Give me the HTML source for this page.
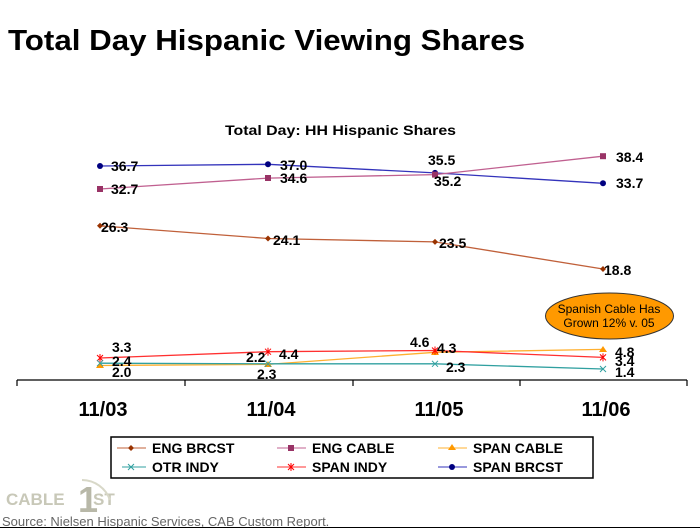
<!DOCTYPE html>
<html><head><meta charset="utf-8"><style>body{margin:0;background:#fff}svg{display:block}</style></head><body>
<svg width="700" height="528" xmlns="http://www.w3.org/2000/svg" font-family="Liberation Sans, sans-serif">
<text x="8" y="50" font-size="29" font-weight="bold" textLength="517" lengthAdjust="spacingAndGlyphs">Total Day Hispanic Viewing Shares</text>
<text x="225" y="135" font-size="14" font-weight="bold" textLength="231" lengthAdjust="spacingAndGlyphs">Total Day:  HH Hispanic Shares</text>
<g stroke="#000" stroke-width="1.2">
<line x1="17" y1="380" x2="687" y2="380"/>
<line x1="17" y1="380" x2="17" y2="386"/><line x1="185" y1="380" x2="185" y2="386"/><line x1="353" y1="380" x2="353" y2="386"/><line x1="520" y1="380" x2="520" y2="386"/><line x1="687" y1="380" x2="687" y2="386"/>
</g>
<g font-size="20" font-weight="bold" text-anchor="middle">
<text x="103" y="416">11/03</text><text x="271" y="416">11/04</text><text x="439" y="416">11/05</text><text x="606" y="416">11/06</text>
</g>
<g fill="none" stroke-width="1.3">
<polyline stroke="#3333bb" points="100,166 268,164.3 435,172.9 603,183.3"/>
<polyline stroke="#c06090" points="100,189 268,178.1 435,174.6 603,156.2"/>
<polyline stroke="#c0603a" points="100,225.8 268,238.5 435,241.9 603,269"/>
<polyline stroke="#ffb030" points="100,365.5 268,364.4 435,352.3 603,349.4"/>
<polyline stroke="#ff3030" points="100,358 268,351.7 435,350.5 603,357.4"/>
<polyline stroke="#30a0a0" points="100,363.2 268,363.8 435,363.8 603,369"/>
</g>
<g fill="#000080"><circle cx="100" cy="166" r="3"/><circle cx="268" cy="164.3" r="3"/><circle cx="435" cy="172.9" r="3"/><circle cx="603" cy="183.3" r="3"/></g>
<g fill="#993366"><rect x="97" y="186" width="6" height="6"/><rect x="265" y="175" width="6" height="6"/><rect x="432" y="171.6" width="6" height="6"/><rect x="600" y="153.2" width="6" height="6"/></g>
<g fill="#993300"><path d="M100 222.8l3 3-3 3-3-3z"/><path d="M268 235.5l3 3-3 3-3-3z"/><path d="M435 238.9l3 3-3 3-3-3z"/><path d="M603 266l3 3-3 3-3-3z"/></g>
<g fill="#ff9900"><path d="M100 362l4 6h-8z"/><path d="M268 361l4 6h-8z"/><path d="M435 349l4 6h-8z"/><path d="M603 346l4 6h-8z"/></g>
<g stroke="#ff0000" stroke-width="1"><path d="M97 355l6 6M103 355l-6 6M100 354v8"/><path d="M265 348.7l6 6M271 348.7l-6 6M268 347.7v8"/><path d="M432 347.5l6 6M438 347.5l-6 6M435 346.5v8"/><path d="M600 354.4l6 6M606 354.4l-6 6M603 353.4v8"/></g>
<g stroke="#30a0a0" stroke-width="1"><path d="M97 360.2l6 6M103 360.2l-6 6"/><path d="M265 360.8l6 6M271 360.8l-6 6"/><path d="M432 360.8l6 6M438 360.8l-6 6"/><path d="M600 366l6 6M606 366l-6 6"/></g>
<g font-size="14" font-weight="bold">
<text x="111" y="171">36.7</text><text x="280" y="170">37.0</text><text x="428" y="165">35.5</text><text x="616" y="188">33.7</text>
<text x="111" y="194">32.7</text><text x="280" y="183">34.6</text><text x="434" y="186">35.2</text><text x="616" y="162">38.4</text>
<text x="101" y="232">26.3</text><text x="273" y="245">24.1</text><text x="439" y="248">23.5</text><text x="604" y="275">18.8</text>
<text x="112" y="352">3.3</text><text x="112" y="366">2.4</text><text x="112" y="377">2.0</text>
<text x="246" y="362">2.2</text><text x="279" y="359">4.4</text><text x="257" y="379">2.3</text>
<text x="410" y="347">4.6</text><text x="437" y="353">4.3</text><text x="446" y="372">2.3</text>
<text x="615" y="357">4.8</text><text x="615" y="366">3.4</text><text x="615" y="377">1.4</text>
</g>
<ellipse cx="609.5" cy="316" rx="64" ry="23" fill="#ff9900" stroke="#333" stroke-width="1"/>
<g font-size="12" text-anchor="middle"><text x="609" y="313">Spanish Cable Has</text><text x="609" y="327">Grown 12% v. 05</text></g>
<rect x="111" y="437" width="482" height="41" fill="#fff" stroke="#000" stroke-width="1.5"/>
<g font-size="14" font-weight="bold">
<line x1="117" y1="448" x2="146" y2="448" stroke="#c0603a"/><path d="M131 445l3 3-3 3-3-3z" fill="#993300"/><text x="152" y="453">ENG BRCST</text>
<line x1="277" y1="448" x2="306" y2="448" stroke="#c06090"/><rect x="288" y="445" width="6" height="6" fill="#993366"/><text x="312" y="453">ENG CABLE</text>
<line x1="438" y1="448" x2="467" y2="448" stroke="#ffb030"/><path d="M452 444l4 6h-8z" fill="#ff9900"/><text x="473" y="453">SPAN CABLE</text>
<line x1="122" y1="467" x2="146" y2="467" stroke="#30a0a0"/><path d="M128 464l6 6M134 464l-6 6" stroke="#30a0a0"/><text x="152" y="472">OTR INDY</text>
<line x1="277" y1="467" x2="306" y2="467" stroke="#ff3030"/><path d="M288 464l6 6M294 464l-6 6M291 463v8" stroke="#ff0000"/><text x="312" y="472">SPAN INDY</text>
<line x1="438" y1="467" x2="467" y2="467" stroke="#3333bb"/><circle cx="452" cy="467" r="3" fill="#000080"/><text x="473" y="472">SPAN BRCST</text>
</g>
<g>
<text x="6" y="505" font-size="17" font-weight="bold" fill="#c8c8b8">CABLE</text>
<text x="78" y="512" font-size="36" font-weight="bold" fill="#b8b8a8">1</text>
<text x="93" y="505" font-size="17" font-weight="bold" fill="#c8c8b8">ST</text>
<path d="M82 480a30 30 0 0 1 28 20" fill="none" stroke="#d8d8c8" stroke-width="2"/>
</g>
<text x="2" y="526" font-size="13" fill="#666">Source: Nielsen Hispanic Services, CAB Custom Report.</text>
<line x1="0" y1="527.5" x2="700" y2="527.5" stroke="#000"/>
</svg>
</body></html>
